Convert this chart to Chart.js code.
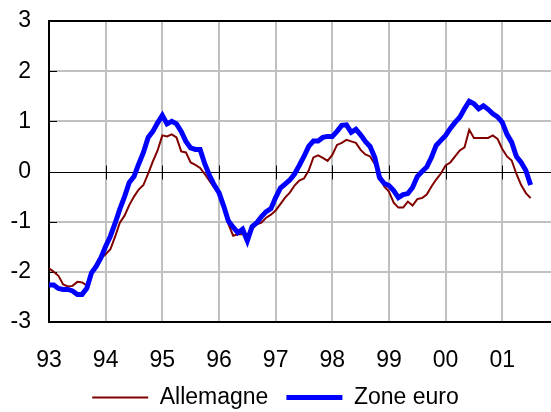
<!DOCTYPE html>
<html>
<head>
<meta charset="utf-8">
<script src="https://cdn.jsdelivr.net/npm/chart.js@4/dist/chart.umd.min.js"></script>
<style>
  html, body { margin: 0; padding: 0; background: #fff; overflow: hidden; }
  canvas { display: block; }
</style>
</head>
<body>
<canvas id="chart" width="551" height="419"></canvas>
<script>
// monthly values, Jan 1993 -> Jul 2001
const startYear = 93;
const seriesNames = ['Allemagne', 'Zone euro'];
const allemagne = [
  -1.93, -2.00, -2.08, -2.25, -2.29, -2.28, -2.20, -2.21, -2.27, -2.02,
  -1.90, -1.73, -1.65, -1.55, -1.30, -1.02, -0.88, -0.67, -0.50, -0.36,
  -0.27, -0.04, 0.20, 0.42, 0.72, 0.70, 0.74, 0.68, 0.40, 0.38,
  0.18, 0.13, 0.07, -0.05, -0.19, -0.32, -0.44, -0.69, -1.05, -1.28,
  -1.25, -1.25, -1.30, -1.15, -1.05, -1.02, -0.92, -0.86, -0.78, -0.65,
  -0.52, -0.42, -0.28, -0.18, -0.14, 0.02, 0.28, 0.32, 0.27, 0.21,
  0.33, 0.53, 0.57, 0.63, 0.60, 0.57, 0.43, 0.34, 0.30, 0.15,
  -0.05, -0.30, -0.40, -0.62, -0.72, -0.72, -0.60, -0.68, -0.55, -0.53,
  -0.46, -0.30, -0.16, -0.04, 0.12, 0.18, 0.30, 0.42, 0.48, 0.83,
  0.67, 0.67, 0.67, 0.67, 0.72, 0.65, 0.45, 0.30, 0.22, -0.05,
  -0.27, -0.43, -0.53
];
const zoneEuro = [
  -2.26, -2.26, -2.33, -2.35, -2.35, -2.38, -2.45, -2.45, -2.33, -2.02,
  -1.89, -1.72, -1.49, -1.29, -1.03, -0.75, -0.50, -0.22, -0.10, 0.15,
  0.38, 0.68, 0.80, 0.97, 1.12, 0.95, 1.00, 0.95, 0.80, 0.60,
  0.47, 0.44, 0.44, 0.15, -0.08, -0.27, -0.42, -0.69, -0.99, -1.11,
  -1.22, -1.15, -1.38, -1.10, -1.02, -0.90, -0.80, -0.74, -0.52, -0.33,
  -0.25, -0.17, -0.05, 0.12, 0.30, 0.50, 0.61, 0.61, 0.68, 0.70,
  0.70, 0.80, 0.92, 0.93, 0.78, 0.84, 0.73, 0.60, 0.50, 0.28,
  -0.12, -0.24, -0.28, -0.38, -0.52, -0.46, -0.44, -0.32, -0.10, 0.00,
  0.09, 0.28, 0.52, 0.62, 0.72, 0.86, 0.98, 1.08, 1.25, 1.40,
  1.35, 1.25, 1.31, 1.24, 1.15, 1.09, 0.98, 0.74, 0.58, 0.30,
  0.18, 0.02, -0.27
];
const yearTicks = [93, 94, 95, 96, 97, 98, 99, 100, 101];

const toPoints = arr => arr.map((v, i) => ({ x: startYear + i / 12, y: v }));
const FONT = { family: "'Liberation Sans', Arial, sans-serif", size: 23 };
const GRID_GREY = '#c0c0c0';

// zero line with its small ticks, and the inside ticks on the value axis
const excelDecor = {
  id: 'excelDecor',
  beforeDatasetsDraw(chart) {
    const { ctx, chartArea, scales: { x, y } } = chart;
    const y0 = Math.round(y.getPixelForValue(0)) + 0.5;
    ctx.save();
    ctx.strokeStyle = '#000';
    ctx.lineWidth = 1;
    ctx.beginPath();
    ctx.moveTo(chartArea.left, y0);
    ctx.lineTo(chartArea.right, y0);
    yearTicks.slice(1).forEach(v => {
      const px = Math.round(x.getPixelForValue(v)) + 0.5;
      ctx.moveTo(px, y0 - 7);
      ctx.lineTo(px, y0 + 7);
    });
    y.ticks.forEach(t => {
      const py = Math.round(y.getPixelForValue(t.value)) + 0.5;
      ctx.moveTo(chartArea.left, py);
      ctx.lineTo(chartArea.left + 8, py);
    });
    ctx.stroke();
    ctx.restore();
  }
};

new Chart(document.getElementById('chart'), {
  type: 'line',
  data: {
    datasets: [
      {
        label: seriesNames[0],
        data: toPoints(allemagne),
        borderColor: '#800000',
        backgroundColor: '#800000',
        borderWidth: 2,
        pointRadius: 0,
        tension: 0,
        order: 1,
      },
      {
        label: seriesNames[1],
        data: toPoints(zoneEuro),
        borderColor: '#0000ff',
        backgroundColor: '#0000ff',
        borderWidth: 5,
        pointRadius: 0,
        tension: 0,
        order: 0,
      },
    ],
  },
  options: {
    responsive: false,
    animation: false,
    layout: { padding: { top: 21, right: 0, bottom: 0, left: 0 } },
    scales: {
      x: {
        type: 'linear',
        min: 93,
        max: 101.86,
        afterFit: s => { s.height = 46; },
        afterBuildTicks: s => { s.ticks = yearTicks.map(v => ({ value: v })); },
        grid: {
          drawTicks: false,
          lineWidth: 2,
          color: c => (c.tick && c.tick.value === 93 ? '#000' : GRID_GREY),
        },
        border: { display: true, color: '#000', width: 2 },
        ticks: {
          padding: 25,
          color: '#000',
          font: FONT,
          maxRotation: 0,
          autoSkip: false,
          callback: v => String(v % 100).padStart(2, '0'),
        },
      },
      y: {
        min: -3,
        max: 3,
        afterFit: s => { s.width = 49; },
        grid: {
          drawTicks: true,
          tickLength: 18,
          tickColor: 'rgba(0,0,0,0)',
          lineWidth: 2,
          color: c => {
            const v = c.tick && c.tick.value;
            if (v === 0) return 'rgba(0,0,0,0)';
            if (v === 3 || v === -3) return '#000';
            return GRID_GREY;
          },
        },
        border: { display: true, color: '#000', width: 2 },
        ticks: { stepSize: 1, padding: 0, color: '#000', font: FONT },
      },
    },
    plugins: {
      legend: {
        position: 'bottom',
        labels: {
          usePointStyle: true,
          pointStyle: 'line',
          pointStyleWidth: 56,
          padding: 18,
          color: '#000',
          font: FONT,
          sort: (a, b) => a.datasetIndex - b.datasetIndex,
        },
      },
      tooltip: { enabled: false },
    },
  },
  plugins: [excelDecor],
});
</script>
</body>
</html>
